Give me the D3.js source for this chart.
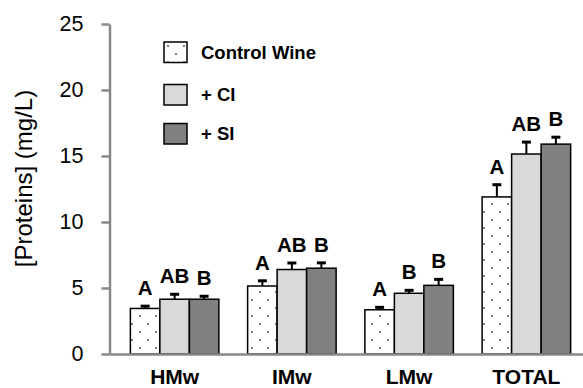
<!DOCTYPE html>
<html>
<head>
<meta charset="utf-8">
<script src="https://cdn.jsdelivr.net/npm/d3@7"></script>
<style>
  body { margin: 0; background: #fff; }
  text { font-family: "Liberation Sans", Arial, sans-serif; }
</style>
</head>
<body>
<script>
//chart data
var categories = ["HMw", "IMw", "LMw", "TOTAL"];
var seriesNames = ["Control Wine", "+ CI", "+ SI"];
var controlVals = [3.45, 5.15, 3.35, 11.9];
var ciVals = [4.15, 6.4, 4.6, 15.15];
var siVals = [4.15, 6.5, 5.2, 15.9];
var controlErr = [0.25, 0.47, 0.26, 1.0];
var ciErr = [0.45, 0.57, 0.3, 0.98];
var siErr = [0.3, 0.48, 0.53, 0.6];
var controlLetters = ["A", "A", "A", "A"];
var ciLetters = ["AB", "AB", "B", "AB"];
var siLetters = ["B", "B", "B", "B"];
var yTicks = [0, 5, 10, 15, 20, 25];

(function(){
  var width = 583,
      height = 388;

  var svg = d3.select("body")
    .append("svg")
    .attr("width", width)
    .attr("height", height);

  //pattern for the control wine bars
  var defs = svg.append("defs");
  var pat = defs.append("pattern")
    .attr("id", "dots")
    .attr("patternUnits", "userSpaceOnUse")
    .attr("width", 16)
    .attr("height", 16);
  pat.append("rect").attr("width", 16).attr("height", 16).attr("fill", "#fff");
  pat.append("circle").attr("cx", 4).attr("cy", 4).attr("r", 1).attr("fill", "#555");
  pat.append("circle").attr("cx", 12).attr("cy", 12).attr("r", 1).attr("fill", "#555");

  var fills = ["url(#dots)", "#d9d9d9", "#808080"];
  var vals = [controlVals, ciVals, siVals];
  var errs = [controlErr, ciErr, siErr];
  var letters = [controlLetters, ciLetters, siLetters];

  //scales
  var x0 = d3.scaleBand()
    .domain(categories)
    .range([116, 585])
    .padding(0);

  var groupW = 88.5;
  var x1 = d3.scaleBand()
    .domain(seriesNames)
    .range([0, groupW])
    .padding(0);

  var y = d3.scaleLinear()
    .domain([0, 25])
    .range([354, 24]);

  //build rows for the bars
  var rows = [];
  categories.forEach(function(c, i){
    seriesNames.forEach(function(s, j){
      rows.push({cat: c, series: s, idx: j, val: vals[j][i], err: errs[j][i], letter: letters[j][i]});
    });
  });

  function barX(d){
    return x0(d.cat) + (x0.bandwidth() - groupW) / 2 + x1(d.series);
  }

  //y axis
  var yAxis = d3.axisLeft(y)
    .tickValues(yTicks)
    .tickSize(8)
    .tickSizeOuter(0)
    .tickPadding(18);

  var ya = svg.append("g")
    .attr("transform", "translate(109.5,0)")
    .call(yAxis);
  ya.select(".domain").attr("stroke", "#888").attr("stroke-width", 2.5);
  ya.selectAll(".tick line").attr("stroke", "#888").attr("stroke-width", 2.5);
  ya.selectAll(".tick text")
    .attr("fill", "#000")
    .style("font-size", "21.5px")
    .style("font-family", "'Liberation Sans', Arial, sans-serif");

  //bars
  svg.selectAll(".bar")
    .data(rows)
    .enter()
    .append("rect")
    .attr("class", "bar")
    .attr("x", barX)
    .attr("y", function(d){ return y(d.val); })
    .attr("width", x1.bandwidth())
    .attr("height", function(d){ return y(0) - y(d.val); })
    .attr("fill", function(d){ return fills[d.idx]; })
    .attr("stroke", "#000")
    .attr("stroke-width", 1.5);

  //error bars (upper only)
  var eb = svg.selectAll(".err")
    .data(rows)
    .enter()
    .append("g")
    .attr("class", "err");
  eb.append("line")
    .attr("x1", function(d){ return barX(d) + x1.bandwidth() / 2; })
    .attr("x2", function(d){ return barX(d) + x1.bandwidth() / 2; })
    .attr("y1", function(d){ return y(d.val); })
    .attr("y2", function(d){ return y(d.val + d.err); })
    .attr("stroke", "#000")
    .attr("stroke-width", 2);
  eb.append("line")
    .attr("x1", function(d){ return barX(d) + x1.bandwidth() / 2 - 4.5; })
    .attr("x2", function(d){ return barX(d) + x1.bandwidth() / 2 + 4.5; })
    .attr("y1", function(d){ return y(d.val + d.err) + 1; })
    .attr("y2", function(d){ return y(d.val + d.err) + 1; })
    .attr("stroke", "#000")
    .attr("stroke-width", 3);

  //significance letters
  svg.selectAll(".letter")
    .data(rows)
    .enter()
    .append("text")
    .attr("class", "letter")
    .attr("x", function(d){ return barX(d) + x1.bandwidth() / 2; })
    .attr("y", function(d){ return y(d.val + d.err) - 10; })
    .attr("text-anchor", "middle")
    .style("font-size", "20.5px")
    .style("font-weight", "bold")
    .text(function(d){ return d.letter; });

  //x axis line
  svg.append("line")
    .attr("x1", 109.5)
    .attr("x2", width)
    .attr("y1", y(0) + 0.5)
    .attr("y2", y(0) + 0.5)
    .attr("stroke", "#888")
    .attr("stroke-width", 2.5);

  //category labels
  svg.selectAll(".cat")
    .data(categories)
    .enter()
    .append("text")
    .attr("class", "cat")
    .attr("x", function(d){ return x0(d) + x0.bandwidth() / 2; })
    .attr("y", 384)
    .attr("text-anchor", "middle")
    .style("font-size", "21px")
    .style("font-weight", "bold")
    .text(function(d){ return d; });

  //y axis title
  svg.append("text")
    .attr("transform", "translate(32,178.5) rotate(-90)")
    .attr("text-anchor", "middle")
    .style("font-size", "24px")
    .text("[Proteins] (mg/L)");

  //legend
  var legend = svg.selectAll(".legend")
    .data(seriesNames)
    .enter()
    .append("g")
    .attr("class", "legend")
    .attr("transform", function(d, i){ return "translate(164," + [42, 84.5, 123.5][i] + ")"; });
  legend.append("rect")
    .attr("width", 23)
    .attr("height", 20.5)
    .attr("fill", function(d, i){ return fills[i]; })
    .attr("stroke", "#000")
    .attr("stroke-width", 1.5);
  legend.append("text")
    .attr("x", 37)
    .attr("y", 16.5)
    .style("font-size", "18.5px")
    .style("font-weight", "bold")
    .text(function(d){ return d; });
})();
</script>
</body>
</html>
